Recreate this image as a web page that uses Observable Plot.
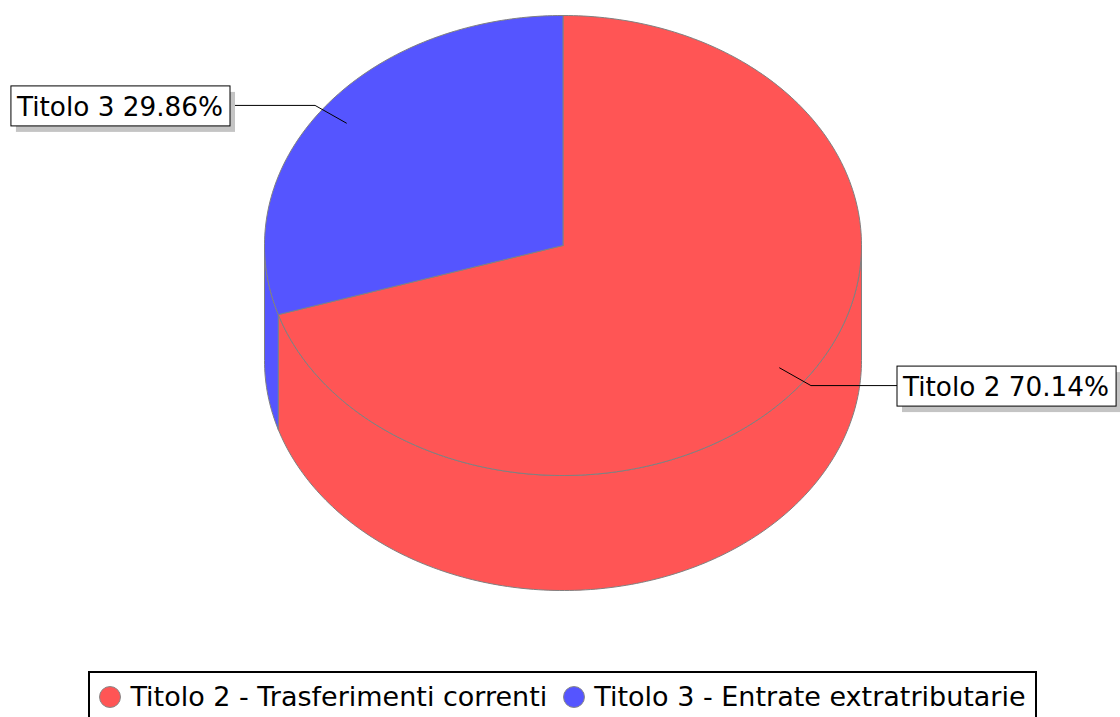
<!DOCTYPE html>
<html>
<head>
<meta charset="utf-8">
<script src="https://cdn.jsdelivr.net/npm/d3@7"></script>
<script src="https://cdn.jsdelivr.net/npm/@observablehq/plot@0.6"></script>
<style>
  html, body { margin: 0; padding: 0; background: #fff; overflow: hidden; }
  #chart svg { display: block; }
  #legendWrap { display: flex; justify-content: center; margin-top: 11px; padding-left: 5px; }
  #legend {
    display: inline-flex; align-items: center; border: 2px solid #000;
    padding: 8px 9px 14px 9px; font-family: "DejaVu Sans", sans-serif;
    font-size: 27px; line-height: 32px; color: #000; white-space: nowrap;
  }
  #legend .item { display: inline-flex; align-items: center; margin-right: 16px; }
  #legend .item:last-child { margin-right: 0; }
  #legend svg { margin-right: 9px; }
</style>
</head>
<body>
<div id="chart"></div>
<div id="legendWrap"><div id="legend"></div></div>
<script>
// ---- data ----
const categories = ["Titolo 2", "Titolo 3"];
const legendNames = ["Titolo 2 - Trasferimenti correnti", "Titolo 3 - Entrate extratributarie"];
const shares = [70.14, 29.86];
const sliceColors = ["#FF5555", "#5555FF"];

// ---- layout ----
const W = 1120, H = 660;
const cx = 562.5, cy = 245, rx = 298.5, ry = 230, depth = 115;
const startDeg = -90;           // 12 o'clock, clockwise on screen
const rad = d => d * Math.PI / 180;
const P = (deg, r = 1, dz = 0) => ({x: cx + r * rx * Math.cos(rad(deg)), y: cy + r * ry * Math.sin(rad(deg)) + dz});
const arc = (a, b, r = 1, dz = 0) => {
  const n = Math.max(2, Math.ceil(Math.abs(b - a) / 1));
  return d3.range(n + 1).map(i => P(a + (b - a) * i / n, r, dz));
};

const total = d3.sum(shares);
let acc = startDeg;
const slices = shares.map((v, i) => {
  const a = acc, b = acc + v / total * 360;
  acc = b;
  return {i, a, b, mid: (a + b) / 2};
});

const marks = [];
// sides (front half only)
for (const s of slices) {
  for (const k of [-360, 0, 360]) {
    const a = Math.max(s.a, k), b = Math.min(s.b, k + 180);
    if (b > a) {
      const poly = [...arc(a, b), ...arc(b, a, 1, depth)];
      poly.push(poly[0]);
      marks.push(Plot.line(poly, {x: "x", y: "y", fill: sliceColors[s.i], stroke: "#808080", strokeWidth: 1, curve: "linear"}));
    }
  }
}
// top faces
for (const s of slices) {
  const poly = [{x: cx, y: cy}, ...arc(s.a, s.b), {x: cx, y: cy}];
  marks.push(Plot.line(poly, {x: "x", y: "y", fill: sliceColors[s.i], stroke: "#808080", strokeWidth: 1, curve: "linear"}));
}

// labels
const FS = 26.3;
const ctx = document.createElement("canvas").getContext("2d");
ctx.font = `${FS}px 'DejaVu Sans'`;
const labelRows = slices.map(s => {
  const text = `${categories[s.i]} ${shares[s.i].toFixed(2)}%`;
  const w = ctx.measureText(text).width + 13;
  const anchor = P(s.mid, 0.9), elbow = P(s.mid, 1.03);
  const left = Math.cos(rad(s.mid)) < 0;
  const edge = left ? 230 : 897;
  const x1 = left ? edge - w : edge, x2 = left ? edge : edge + w;
  return {text, anchor, elbow, edge, x1, x2, yc: elbow.y + 1, tx: x1 + 5.5};
});
for (const L of labelRows) {
  marks.push(Plot.line([L.anchor, L.elbow, {x: L.edge, y: L.elbow.y}], {x: "x", y: "y", stroke: "#000", strokeWidth: 1}));
}
marks.push(Plot.rect(labelRows, {x1: d => d.x1 + 5, x2: d => d.x2 + 5, y1: d => d.yc - 20 + 6, y2: d => d.yc + 20 + 6, fill: "#c4c4c4", inset: 0}));
marks.push(Plot.rect(labelRows, {x1: "x1", x2: "x2", y1: d => d.yc - 20, y2: d => d.yc + 20, fill: "#fff", stroke: "#000", strokeWidth: 1, inset: 0}));
marks.push(Plot.text(labelRows, {x: "tx", y: d => d.yc + 1, text: "text", textAnchor: "start", lineAnchor: "middle", fontSize: FS, fill: "#000"}));

const chart = Plot.plot({
  width: W, height: H, margin: 0,
  style: {fontFamily: "'DejaVu Sans', sans-serif", background: "#fff"},
  x: {type: "linear", domain: [0, W], range: [0, W], axis: null},
  y: {type: "linear", domain: [0, H], range: [0, H], axis: null},
  marks
});
document.getElementById("chart").appendChild(chart);

// legend
const leg = document.getElementById("legend");
legendNames.forEach((name, i) => {
  const it = document.createElement("span");
  it.className = "item";
  it.innerHTML = `<svg width="22" height="22"><circle cx="11" cy="11" r="10.5" fill="${sliceColors[i]}" stroke="#888" stroke-width="1"/></svg><span>${name}</span>`;
  leg.appendChild(it);
});
</script>
</body>
</html>
